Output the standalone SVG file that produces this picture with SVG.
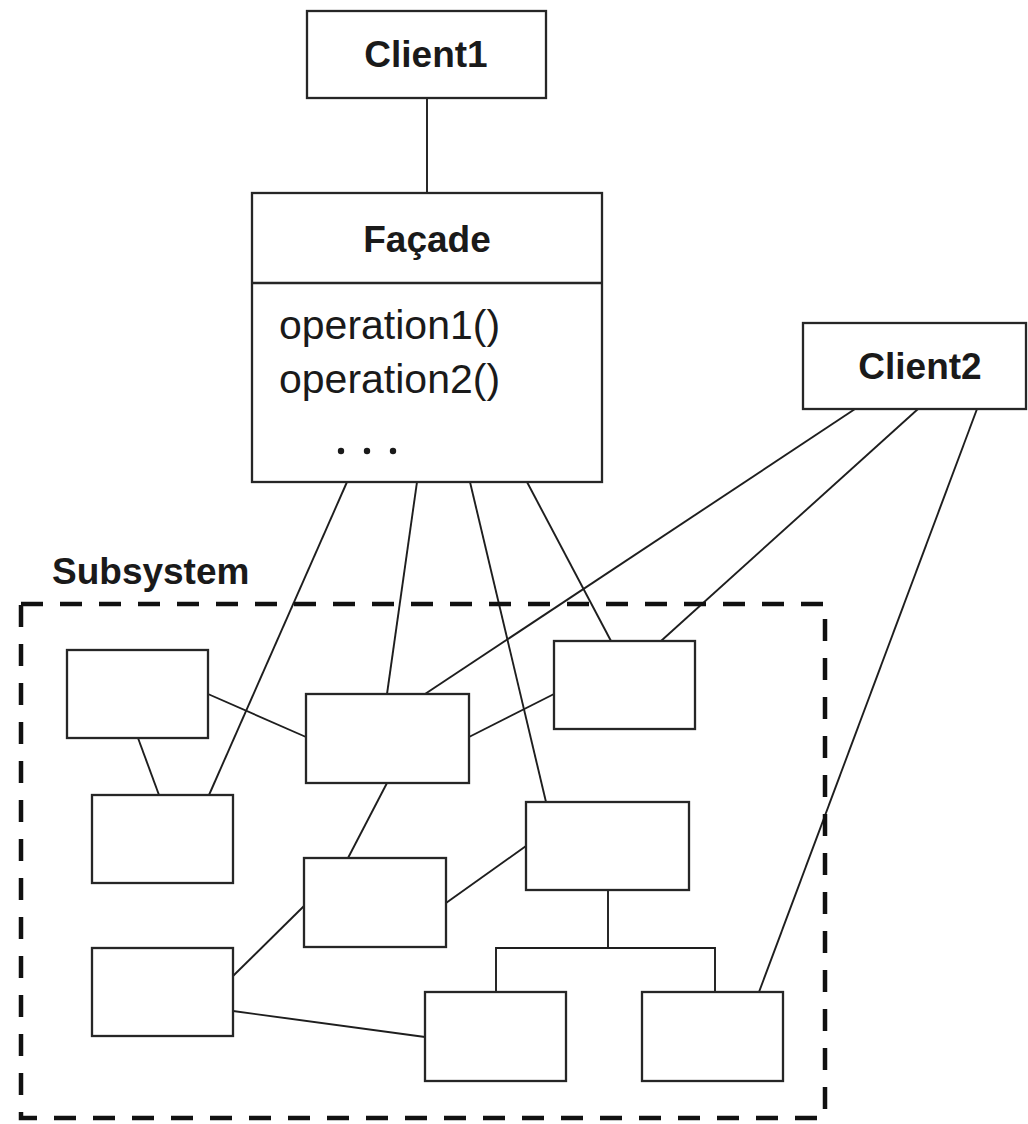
<svg xmlns="http://www.w3.org/2000/svg" width="1028" height="1124" viewBox="0 0 1028 1124">
  <style>
    .box { fill: #ffffff; stroke: #262626; stroke-width: 2.3; }
    .link { fill: none; stroke: #1e1e1e; stroke-width: 1.9; }
    .title { font-family: "Liberation Sans", Arial, sans-serif; font-weight: bold; font-size: 37px; fill: #1a1a1a; text-anchor: middle; }
    .op { font-family: "Liberation Sans", Arial, sans-serif; font-size: 41px; fill: #1a1a1a; }
    .frame { fill: none; stroke: #111111; stroke-width: 4.5; stroke-dasharray: 22 17; }
  </style>
  <rect width="1028" height="1124" fill="#ffffff"/>

  <!-- connectors -->
  <g id="connectors" class="link">
    <line x1="427" y1="98" x2="427" y2="193"/>
    <!-- facade to subsystem classes -->
    <line x1="347" y1="482" x2="209" y2="795"/>
    <line x1="417" y1="482" x2="387" y2="694"/>
    <line x1="470" y1="482" x2="546" y2="802"/>
    <line x1="527" y1="482" x2="611" y2="641"/>
    <!-- client2 to subsystem classes -->
    <line x1="855" y1="409" x2="425" y2="694"/>
    <line x1="918" y1="409" x2="661" y2="641"/>
    <line x1="977" y1="409" x2="759" y2="992"/>
    <!-- links inside the subsystem -->
    <line x1="208" y1="694" x2="306" y2="737"/>
    <line x1="138" y1="738" x2="159" y2="795"/>
    <line x1="469" y1="737" x2="554" y2="694"/>
    <line x1="387" y1="783" x2="348" y2="858"/>
    <line x1="446" y1="903" x2="526" y2="846"/>
    <line x1="233" y1="976" x2="304" y2="906"/>
    <line x1="233" y1="1011" x2="425" y2="1037"/>
    <polyline points="608,890 608,948"/>
    <polyline points="496,992 496,948 715,948 715,992"/>
  </g>

  <g id="client1">
    <rect class="box" x="307" y="11" width="239" height="87"/>
    <text class="title" x="426" y="67">Client1</text>
  </g>

  <g id="facade">
    <rect class="box" x="252" y="193" width="350" height="289"/>
    <line class="box" x1="252" y1="283" x2="602" y2="283" stroke-width="2.6"/>
    <text class="title" x="427" y="252">Façade</text>
    <text class="op" x="279" y="339">operation1()</text>
    <text class="op" x="279" y="393">operation2()</text>
    <g fill="#1a1a1a">
      <circle cx="341" cy="451" r="3.2"/>
      <circle cx="367" cy="451" r="3.2"/>
      <circle cx="393" cy="451" r="3.2"/>
    </g>
  </g>

  <g id="client2">
    <rect class="box" x="803" y="323" width="223" height="86"/>
    <text class="title" x="920" y="379">Client2</text>
  </g>

  <g id="subsystem">
    <text class="title" x="52" y="584" style="text-anchor:start">Subsystem</text>
    <rect class="frame" x="21" y="604" width="804" height="514"/>
  </g>

  <g id="class-a"><rect class="box" x="67" y="650" width="141" height="88"/></g>
  <g id="class-b"><rect class="box" x="92" y="795" width="141" height="88"/></g>
  <g id="class-c"><rect class="box" x="306" y="694" width="163" height="89"/></g>
  <g id="class-d"><rect class="box" x="304" y="858" width="142" height="89"/></g>
  <g id="class-e"><rect class="box" x="526" y="802" width="163" height="88"/></g>
  <g id="class-f"><rect class="box" x="554" y="641" width="141" height="88"/></g>
  <g id="class-g"><rect class="box" x="92" y="948" width="141" height="88"/></g>
  <g id="class-h"><rect class="box" x="425" y="992" width="141" height="89"/></g>
  <g id="class-i"><rect class="box" x="642" y="992" width="141" height="89"/></g>
</svg>
